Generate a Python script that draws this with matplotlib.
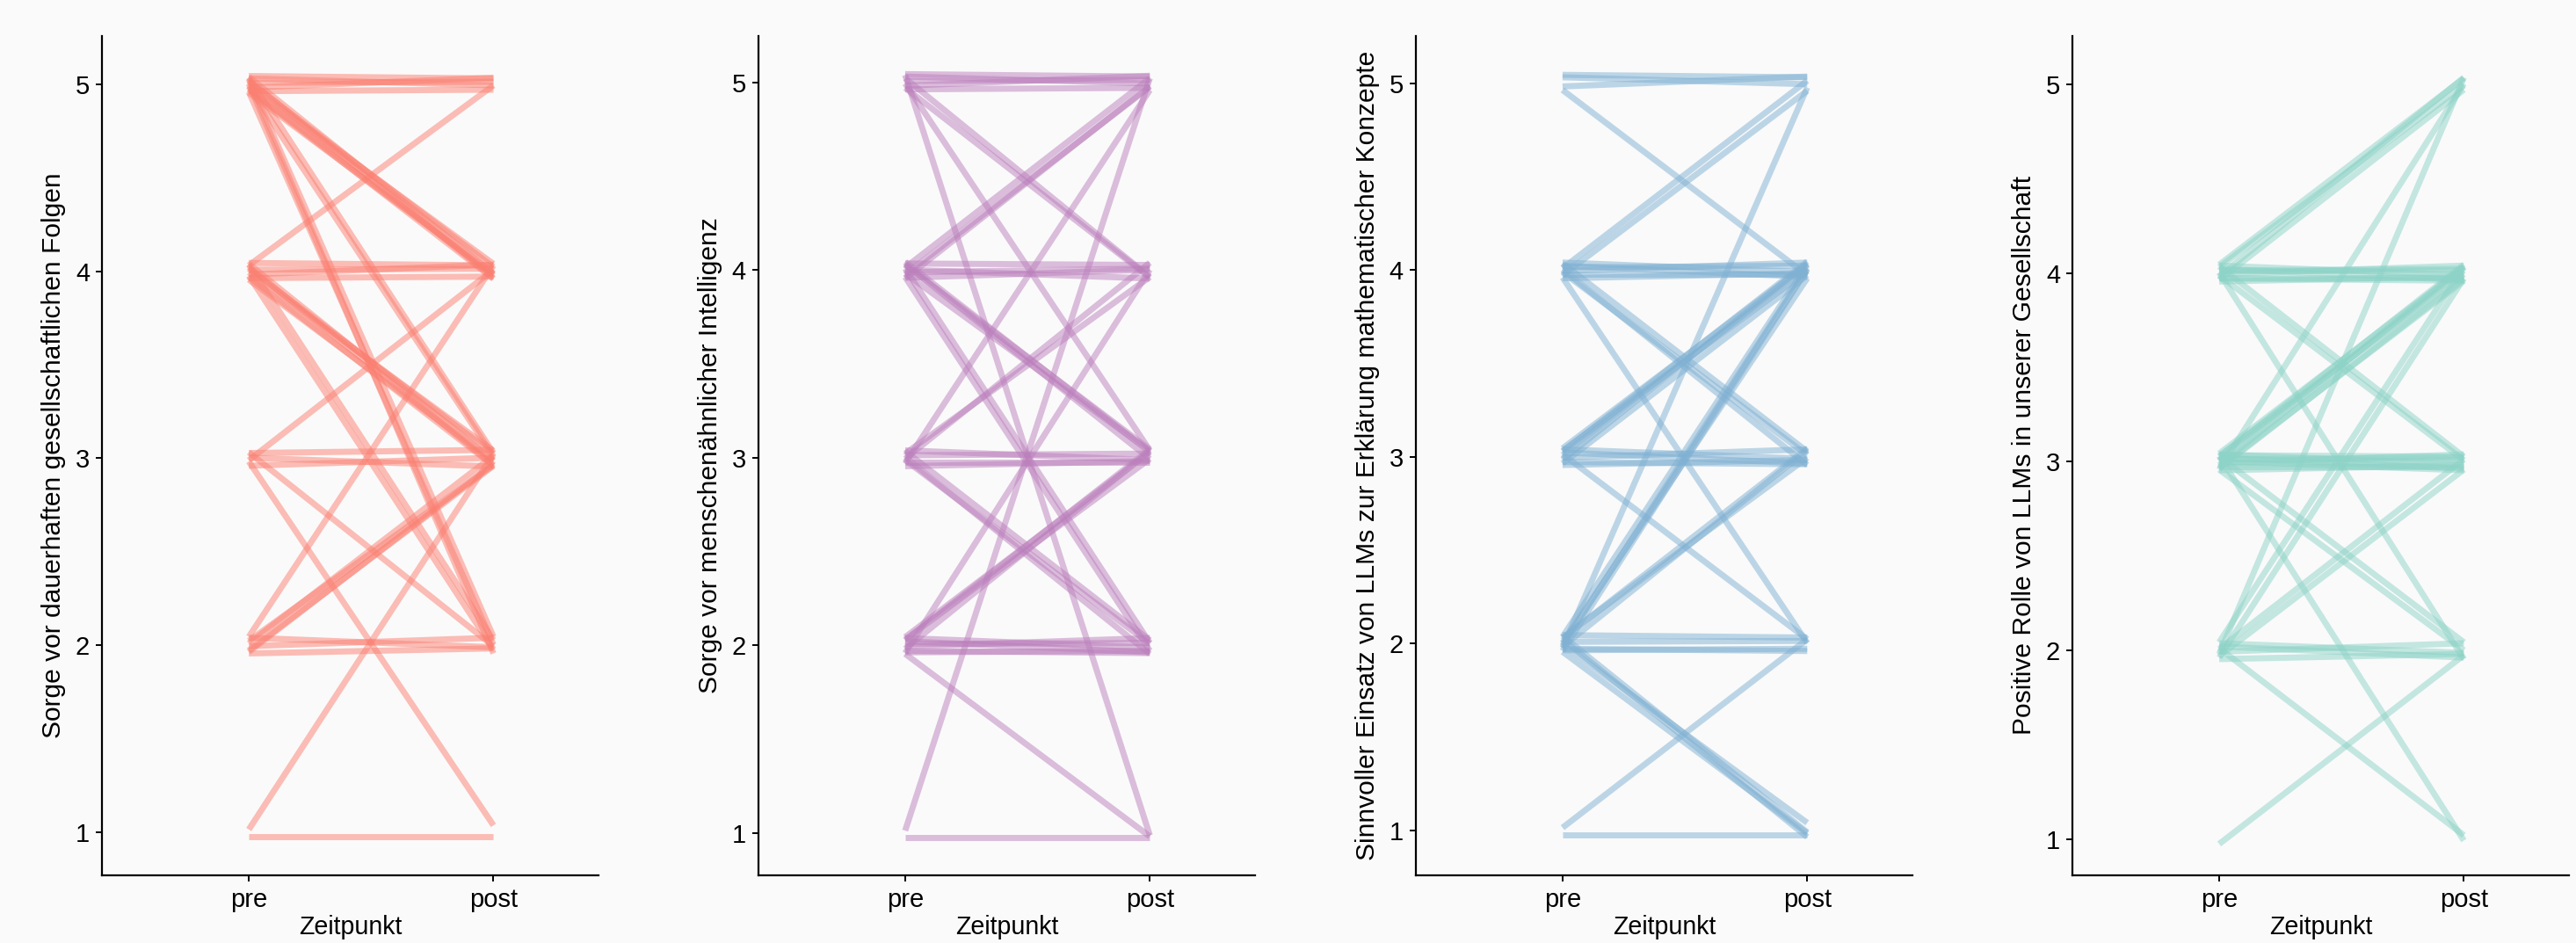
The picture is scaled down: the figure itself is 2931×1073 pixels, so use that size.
import matplotlib.pyplot as plt

plt.rcParams['font.family'] = ['Liberation Sans', 'DejaVu Sans']

# one entry per respondent, answers on a 1-5 scale
timepoints = ['pre', 'post']

folgen_pre = [5, 5, 5, 5, 5, 5, 5, 5, 5, 5, 5, 5, 5, 5, 5, 5, 5,
              4, 4, 4, 4, 4, 4, 4, 4, 4, 4, 4, 4, 4,
              3, 3, 3, 3, 3, 3,
              2, 2, 2, 2, 2, 2, 2, 2,
              1, 1]
folgen_post = [5, 5, 5, 5, 5, 4, 4, 4, 4, 4, 4, 4, 3, 3, 2, 2, 2,
               5, 4, 4, 4, 4, 3, 3, 3, 3, 3, 3, 2, 2,
               4, 3, 3, 3, 2, 1,
               4, 3, 3, 3, 3, 2, 2, 2,
               3, 1]

intelligenz_pre = [5, 5, 5, 5, 5, 5, 5, 5, 5,
                   4, 4, 4, 4, 4, 4, 4, 4, 4, 4, 4, 4, 4,
                   3, 3, 3, 3, 3, 3, 3, 3, 3, 3,
                   2, 2, 2, 2, 2, 2, 2, 2, 2, 2, 2, 2,
                   1, 1]
intelligenz_post = [5, 5, 5, 5, 5, 4, 4, 3, 1,
                    5, 5, 5, 4, 4, 4, 4, 3, 3, 3, 3, 2, 2,
                    5, 4, 4, 3, 3, 3, 3, 2, 2, 2,
                    4, 3, 3, 3, 3, 2, 2, 2, 2, 2, 2, 1,
                    5, 1]

mathe_pre = [5, 5, 5, 5,
             4, 4, 4, 4, 4, 4, 4, 4, 4, 4, 4, 4,
             3, 3, 3, 3, 3, 3, 3, 3, 3, 3, 3, 3,
             2, 2, 2, 2, 2, 2, 2, 2, 2, 2, 2, 2, 2, 2, 2, 2,
             1, 1]
mathe_post = [5, 5, 5, 4,
              5, 5, 4, 4, 4, 4, 4, 4, 3, 3, 3, 2,
              4, 4, 4, 4, 4, 4, 3, 3, 3, 3, 3, 2,
              5, 4, 4, 4, 4, 3, 3, 3, 2, 2, 2, 2, 1, 1, 1, 1,
              2, 1]

rolle_pre = [4, 4, 4, 4, 4, 4, 4, 4, 4, 4, 4, 4, 4, 4, 4,
             3, 3, 3, 3, 3, 3, 3, 3, 3, 3, 3, 3, 3, 3, 3, 3, 3, 3, 3, 3,
             2, 2, 2, 2, 2, 2, 2, 2, 2, 2,
             1]
rolle_post = [5, 5, 5, 5, 4, 4, 4, 4, 4, 4, 4, 4, 3, 3, 2,
              5, 4, 4, 4, 4, 4, 4, 4, 3, 3, 3, 3, 3, 3, 3, 3, 3, 2, 2, 1,
              5, 4, 4, 3, 3, 2, 2, 2, 2, 1,
              2]

labels = ['Sorge vor dauerhaften gesellschaftlichen Folgen',
          'Sorge vor menschenähnlicher Intelligenz',
          'Sinnvoller Einsatz von LLMs zur Erklärung mathematischer Konzepte',
          'Positive Rolle von LLMs in unserer Gesellschaft']
colors = ['#FB8072', '#BC80BD', '#80B1D3', '#8DD3C7']
panels = [(folgen_pre, folgen_post), (intelligenz_pre, intelligenz_post),
          (mathe_pre, mathe_post), (rolle_pre, rolle_post)]

# small vertical jitter like position_jitter(height = 0.05)
jitter = [0.031, -0.018, 0.044, -0.037, 0.008, -0.029, 0.022, -0.006, 0.039,
          -0.045, 0.013, -0.024, 0.035, -0.012, 0.002, -0.041, 0.027]

lefts = [0.0396, 0.2944, 0.5496, 0.8045]
ylims = [(0.768, 5.258), (0.775, 5.247), (0.758, 5.252), (0.81, 5.255)]
bg = '#FAFAFA'

fig = plt.figure(figsize=(14.655, 5.365), dpi=200, facecolor=bg)

for k in range(4):
    ax = fig.add_axes([lefts[k], 0.0718, 0.1928, 0.890])
    ax.set_facecolor(bg)
    pre, post = panels[k]
    n = len(jitter)
    for i in range(len(pre)):
        y0 = pre[i] + jitter[i % n]
        y1 = post[i] + jitter[(i * 5 + 7) % n]
        ax.plot([1, 2], [y0, y1], color=colors[k], alpha=0.5, lw=2.5,
                solid_capstyle='butt')
    ax.set_xlim(0.4, 2.43)
    ax.set_ylim(*ylims[k])
    ax.set_xticks([1, 2], timepoints)
    ax.set_yticks([1, 2, 3, 4, 5])
    for s in ['top', 'right']:
        ax.spines[s].set_visible(False)
    for s in ['left', 'bottom']:
        ax.spines[s].set_linewidth(0.8)
    ax.tick_params(length=2.5, width=0.7, labelsize=10.5, pad=2.5,
                   colors='black')
    ax.set_xlabel('Zeitpunkt', fontsize=10.3, labelpad=1)
    ax.set_ylabel(labels[k], fontsize=10.8, labelpad=4)

fig.savefig('out.png', dpi=200, facecolor=bg)
